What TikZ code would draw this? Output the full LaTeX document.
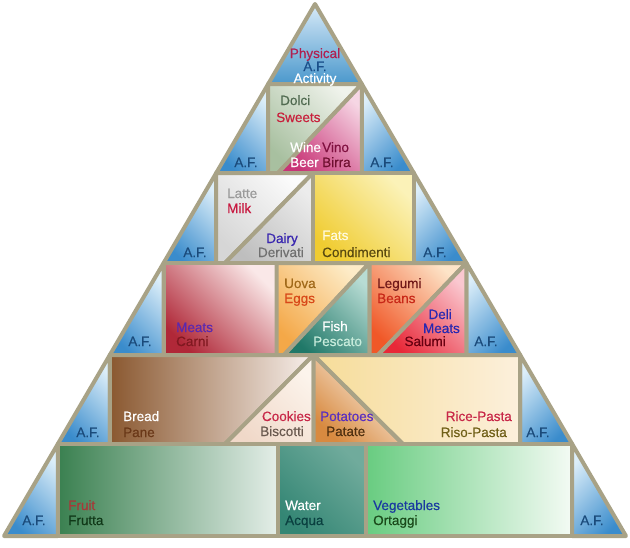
\documentclass[tikz,border=0pt]{standalone}
\usepackage{fontspec}
\setmainfont{Liberation Sans}
\newfontfamily\semib[FakeBold=0.45]{Liberation Sans}
\definecolor{frame}{HTML}{A8A286}
\definecolor{afc}{HTML}{1A4A7A}
\definecolor{afdark}{HTML}{3A8CCC}
\definecolor{aflight}{HTML}{DCEEF9}
\definecolor{toplight}{HTML}{D8EAF8}
\definecolor{topdark}{HTML}{4A98CC}
\definecolor{swd}{HTML}{A8C0A0}\definecolor{swl}{HTML}{F0F3EC}
\definecolor{wid}{HTML}{C83476}\definecolor{wil}{HTML}{F6D6E4}
\definecolor{mid}{HTML}{D6D6D6}\definecolor{mil}{HTML}{FBFBFB}
\definecolor{ded}{HTML}{BEBEBE}\definecolor{del}{HTML}{ECECEC}
\definecolor{fad}{HTML}{F0CC30}\definecolor{fal}{HTML}{FBF2B8}
\definecolor{med}{HTML}{B02838}\definecolor{mel}{HTML}{FAE8E8}
\definecolor{egd}{HTML}{F4A848}\definecolor{egl}{HTML}{FDECC8}
\definecolor{fid}{HTML}{207868}\definecolor{fil}{HTML}{B8DCD4}
\definecolor{led}{HTML}{F05828}\definecolor{lel}{HTML}{FDE4C8}
\definecolor{dld}{HTML}{E82838}\definecolor{dll}{HTML}{FAC8D0}
\definecolor{brd}{HTML}{8A5830}\definecolor{brl}{HTML}{F8F0EC}
\definecolor{cod}{HTML}{F0D8C8}\definecolor{col}{HTML}{FCF4EC}
\definecolor{pod}{HTML}{D88A40}\definecolor{pol}{HTML}{FDF6EE}
\definecolor{rid}{HTML}{F6DC98}\definecolor{ril}{HTML}{FCF0DC}
\definecolor{frd}{HTML}{3A8050}\definecolor{frl}{HTML}{E4EEE8}
\definecolor{wad}{HTML}{348674}\definecolor{wal}{HTML}{70AB9C}
\definecolor{ved}{HTML}{68CC80}\definecolor{vel}{HTML}{F4FBF4}
% text colours
\definecolor{cPhys}{HTML}{B02050}\definecolor{cAFt}{HTML}{1A4F8A}
\definecolor{cDolci}{HTML}{506A50}\definecolor{cSweets}{HTML}{C8203C}
\definecolor{cVino}{HTML}{801040}\definecolor{cBirra}{HTML}{701030}
\definecolor{cLatte}{HTML}{9A9A9A}\definecolor{cMilk}{HTML}{C81840}
\definecolor{cDairy}{HTML}{3A28B0}\definecolor{cDeriv}{HTML}{707070}
\definecolor{cFats}{HTML}{FFFBE0}\definecolor{cCond}{HTML}{5A4A10}
\definecolor{cMeats}{HTML}{5A28B0}\definecolor{cCarni}{HTML}{801820}
\definecolor{cUova}{HTML}{A06818}\definecolor{cEggs}{HTML}{D84818}
\definecolor{cPesc}{HTML}{C8ECDC}\definecolor{cLeg}{HTML}{701818}
\definecolor{cBeans}{HTML}{C82818}\definecolor{cDeli}{HTML}{2828B0}
\definecolor{cSal}{HTML}{680010}\definecolor{cPane}{HTML}{6A3818}
\definecolor{cCook}{HTML}{C82848}\definecolor{cBisc}{HTML}{6A5A50}
\definecolor{cPot}{HTML}{5A30C0}\definecolor{cPat}{HTML}{503010}
\definecolor{cRiso}{HTML}{706018}\definecolor{cFruit}{HTML}{A83838}
\definecolor{cFrutta}{HTML}{103818}\definecolor{cAcq}{HTML}{0A4040}
\definecolor{cVeg}{HTML}{1A3AA0}\definecolor{cOrt}{HTML}{1A4A1A}
\tikzset{
  pc/.style={draw=frame, line width=4pt, line join=round},
  dg/.style 2 args={top color=#2, bottom color=#1, shading angle=-45},
  dgr/.style 2 args={top color=#2, bottom color=#1, shading angle=45},
  hg/.style 2 args={left color=#1, right color=#2},
  afl/.style={pc, dg={afdark}{aflight}},
  afr/.style={pc, dgr={afdark}{aflight}},
  txt/.style={font=\semib\fontsize{13.5}{15}\selectfont, inner sep=0pt},
  aft/.style={txt, text=afc, anchor=base},
  tw/.style={txt, anchor=base west},
  te/.style={txt, anchor=base east},
}
\begin{document}
\begin{tikzpicture}[x=1pt,y=-1pt]
\useasboundingbox[fill=white] (0,0) rectangle (630,547);
% top triangle
\path[pc, top color=toplight, bottom color=topdark] (315,4) -- (361.8,84) -- (268.2,84) -- cycle;
% row 2
\path[afl] (268.2,84) -- (268.2,173) -- (216.2,173) -- cycle;
\path[afr] (361.8,84) -- (361.8,173) -- (413.8,173) -- cycle;
\path[pc, dg={swd}{swl}] (268.2,84) -- (361.8,84) -- (278,173) -- (268.2,173) -- cycle;
\path[pc, dg={wid}{wil}] (361.8,84) -- (361.8,173) -- (278,173) -- cycle;
% row 3
\path[afl] (216.2,173) -- (216.2,263) -- (163.6,263) -- cycle;
\path[afr] (413.8,173) -- (413.8,263) -- (466.4,263) -- cycle;
\path[pc, dg={mid}{mil}] (216.2,173) -- (313,173) -- (225,263) -- (216.2,263) -- cycle;
\path[pc, dg={ded}{del}] (313,173) -- (313,263) -- (225,263) -- cycle;
\path[pc, dg={fad}{fal}] (313,173) -- (413.8,173) -- (413.8,263) -- (313,263) -- cycle;
% row 4
\path[afl] (163.6,263) -- (163.6,355) -- (109.8,355) -- cycle;
\path[afr] (466.4,263) -- (466.4,355) -- (520.2,355) -- cycle;
\path[pc, dg={med}{mel}] (163.6,263) -- (276.5,263) -- (276.5,355) -- (163.6,355) -- cycle;
\path[pc, dg={egd}{egl}] (276.5,263) -- (369.5,263) -- (284,355) -- (276.5,355) -- cycle;
\path[pc, dg={fid}{fil}] (369.5,263) -- (369.5,355) -- (284,355) -- cycle;
\path[pc, dg={led}{lel}] (369.5,263) -- (466.4,263) -- (378,355) -- (369.5,355) -- cycle;
\path[pc, dg={dld}{dll}] (466.4,263) -- (466.4,355) -- (378,355) -- cycle;
% row 5
\path[afl] (109.8,355) -- (109.8,444) -- (57.8,444) -- cycle;
\path[afr] (520.2,355) -- (520.2,444) -- (572.2,444) -- cycle;
\path[pc, hg={brd}{brl}] (109.8,355) -- (313.5,355) -- (225,444) -- (109.8,444) -- cycle;
\path[pc, dg={cod}{col}] (313.5,355) -- (313.5,444) -- (225,444) -- cycle;
\path[pc, dg={pod}{pol}] (313.5,355) -- (403,444) -- (313.5,444) -- cycle;
\path[pc, hg={rid}{ril}] (313.5,355) -- (520.2,355) -- (520.2,444) -- (403,444) -- cycle;
% row 6
\path[afl] (57.8,444) -- (57.8,536) -- (4,536) -- cycle;
\path[afr] (572.2,444) -- (572.2,536) -- (626,536) -- cycle;
\path[pc, hg={frd}{frl}] (57.8,444) rectangle (277.5,536);
\path[pc, dg={wad}{wal}] (277.5,444) rectangle (365.5,536);
\path[pc, hg={ved}{vel}] (365.5,444) rectangle (572.2,536);
% texts top
\node[txt, anchor=base, text=cPhys] (physical) at (315,58) {Physical};
\node[txt, anchor=base, text=cAFt] (aftop) at (315,71) {A.F.};
\node[txt, anchor=base, text=white] (activity) at (315,83) {Activity};
% A.F. labels
\node[aft] (af2l) at (246,167) {A.F.};
\node[aft] (af2r) at (382,167) {A.F.};
\node[aft] (af3l) at (195,257) {A.F.};
\node[aft] (af3r) at (435,257) {A.F.};
\node[aft] (af4l) at (140,346) {A.F.};
\node[aft] (af4r) at (486,346) {A.F.};
\node[aft] (af5l) at (88,437) {A.F.};
\node[aft] (af5r) at (538,437) {A.F.};
\node[aft] (af6l) at (34,525) {A.F.};
\node[aft] (af6r) at (592,525) {A.F.};
% row 2
\node[tw, text=cDolci] (dolci) at (280,105) {Dolci};
\node[tw, text=cSweets] (sweets) at (276,122) {Sweets};
\node[tw, text=white] (wine) at (290,152) {Wine};
\node[tw, text=cVino] (vino) at (322,152) {Vino};
\node[tw, text=white] (beer) at (290,167) {Beer};
\node[tw, text=cBirra] (birra) at (322,167) {Birra};
% row 3
\node[tw, text=cLatte] (latte) at (227,198) {Latte};
\node[tw, text=cMilk] (milk) at (227,213) {Milk};
\node[te, text=cDairy] (dairy) at (298,243) {Dairy};
\node[te, text=cDeriv] (derivati) at (304,257) {Derivati};
\node[tw, text=cFats] (fats) at (322,240) {Fats};
\node[tw, text=cCond] (condimenti) at (322,257) {Condimenti};
% row 4
\node[tw, text=cMeats] (meats) at (176,332) {Meats};
\node[tw, text=cCarni] (carni) at (176,346) {Carni};
\node[tw, text=cUova] (uova) at (284,288) {Uova};
\node[tw, text=cEggs] (eggs) at (284,303) {Eggs};
\node[tw, text=white] (fish) at (322,331) {Fish};
\node[tw, text=cPesc] (pescato) at (313,346) {Pescato};
\node[tw, text=cLeg] (legumi) at (377,288) {Legumi};
\node[tw, text=cBeans] (beans) at (377,303) {Beans};
\node[te, text=cDeli] (deli) at (452,319) {Deli};
\node[te, text=cDeli] (delimeats) at (460,333) {Meats};
\node[te, text=cSal] (salumi) at (446,346) {Salumi};
% row 5
\node[tw, text=white] (bread) at (123,421) {Bread};
\node[tw, text=cPane] (pane) at (123,437) {Pane};
\node[te, text=cCook] (cookies) at (311,421) {Cookies};
\node[te, text=cBisc] (biscotti) at (304,436) {Biscotti};
\node[tw, text=cPot] (potatoes) at (320,421) {Potatoes};
\node[tw, text=cPat] (patate) at (326,436) {Patate};
\node[te, text=cCook] (rice) at (512,421) {Rice-Pasta};
\node[te, text=cRiso] (riso) at (507,437) {Riso-Pasta};
% row 6
\node[tw, text=cFruit] (fruit) at (68,510) {Fruit};
\node[tw, text=cFrutta] (frutta) at (68,525) {Frutta};
\node[tw, text=white] (water) at (285,510) {Water};
\node[tw, text=cAcq] (acqua) at (285,525) {Acqua};
\node[tw, text=cVeg] (vegetables) at (373,510) {Vegetables};
\node[tw, text=cOrt] (ortaggi) at (373,525) {Ortaggi};
\end{tikzpicture}
\end{document}
